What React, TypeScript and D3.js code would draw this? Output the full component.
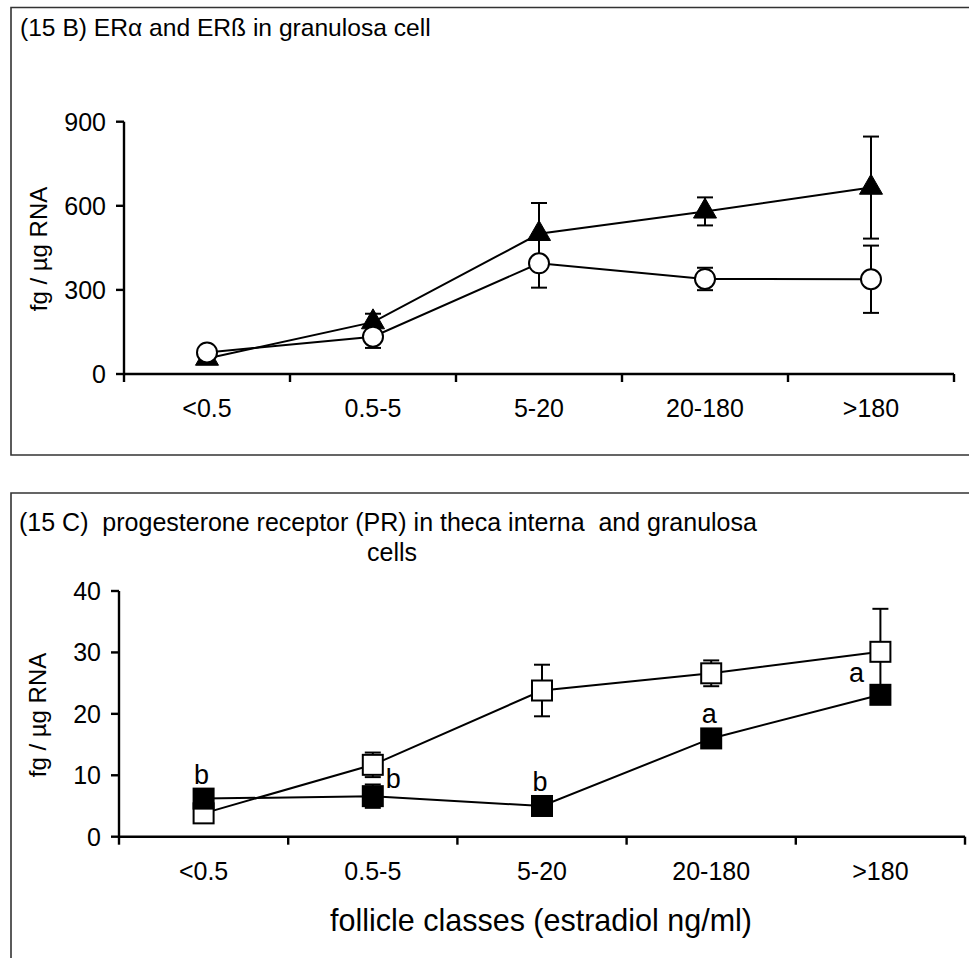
import React from 'react';
import * as d3 from 'd3';

// follicle classes (estradiol ng/ml)
const classes = ['<0.5', '0.5-5', '5-20', '20-180', '>180'];

// (15 B) granulosa cells, fg / µg RNA
const erAlpha = [55, 185, 500, 580, 665];
const erAlphaErr = [0, 30, 110, 50, 182];
const erBeta = [77, 133, 395, 339, 338];
const erBetaErr = [0, 40, 87, 40, 120];
const topTicks = [0, 300, 600, 900];

// (15 C) PR, fg / µg RNA
const prOpen = [3.8, 11.7, 23.8, 26.6, 30.1];
const prOpenErr = [0, 2, 4.2, 2.1, 7];
const prFilled = [6.2, 6.6, 5.0, 16.0, 23.1];
const prFilledErr = [0, 1.9, 0, 0, 1.2];
const prLetters = ['b', 'b', 'b', 'a', 'a'];
const bottomTicks = [0, 10, 20, 30, 40];

const FONT = '"Liberation Sans", Arial, Helvetica, sans-serif';

type Series = { values: number[]; err: number[]; shape: 'triangle' | 'circle' | 'square'; fill: string };

const Marker = ({ shape, fill, x, y }: { shape: string; fill: string; x: number; y: number }) => {
  if (shape === 'circle') {
    return <circle cx={x} cy={y} r={10} fill={fill} stroke="#000" strokeWidth={2} />;
  }
  if (shape === 'square') {
    return <rect x={x - 10} y={y - 10} width={20} height={20} fill={fill} stroke="#000" strokeWidth={2} />;
  }
  const tri = d3.symbol(d3.symbolTriangle, 230)();
  return <path d={tri || ''} transform={`translate(${x},${y})`} fill={fill} stroke="#000" strokeWidth={1} />;
};

const Panel = ({
  x0, x1, yBottom, yTop, max, ticks, series,
}: {
  x0: number; x1: number; yBottom: number; yTop: number; max: number; ticks: number[]; series: Series[];
}) => {
  const x = d3.scaleBand<string>().domain(classes).range([x0, x1]).padding(0);
  const y = d3.scaleLinear().domain([0, max]).range([yBottom, yTop]);
  const cx = (c: string) => (x(c) as number) + x.bandwidth() / 2;
  const edges = classes.map((c) => x(c) as number).concat([x1]);
  const line = d3.line<number>().x((_, i) => cx(classes[i])).y((d) => y(d));

  return (
    <g>
      {/* axes */}
      <line x1={x0} x2={x0} y1={yBottom + 1.2} y2={yTop} stroke="#000" strokeWidth={2.4} />
      <line x1={x0} x2={x1} y1={yBottom} y2={yBottom} stroke="#000" strokeWidth={2.4} />
      {ticks.map((t) => (
        <g key={t}>
          <line x1={x0 - 8} x2={x0} y1={y(t)} y2={y(t)} stroke="#000" strokeWidth={2.4} />
          <text x={x0 - 18} y={y(t)} dy="0.36em" textAnchor="end" fontSize={25}>{t}</text>
        </g>
      ))}
      {edges.map((e, i) => (
        <line key={i} x1={e} x2={e} y1={yBottom} y2={yBottom + 8} stroke="#000" strokeWidth={2.4} />
      ))}
      {classes.map((c) => (
        <text key={c} x={cx(c)} y={yBottom + 43} textAnchor="middle" fontSize={25}>{c}</text>
      ))}
      {/* error bars */}
      {series.map((s, si) =>
        s.values.map((v, i) => {
          if (!s.err[i]) return null;
          const px = cx(classes[i]);
          const lo = y(v - s.err[i]);
          const hi = y(v + s.err[i]);
          return (
            <g key={`${si}-${i}`} stroke="#000" strokeWidth={2}>
              <line x1={px} x2={px} y1={lo} y2={hi} />
              <line x1={px - 8} x2={px + 8} y1={hi} y2={hi} />
              <line x1={px - 8} x2={px + 8} y1={lo} y2={lo} />
            </g>
          );
        })
      )}
      {/* lines */}
      {series.map((s, si) => (
        <path key={si} d={line(s.values) || ''} fill="none" stroke="#000" strokeWidth={2} />
      ))}
      {/* markers */}
      {series.map((s, si) =>
        s.values.map((v, i) => (
          <Marker key={`${si}-${i}`} shape={s.shape} fill={s.fill} x={cx(classes[i])} y={y(v)} />
        ))
      )}
    </g>
  );
};

export default function App() {
  const bx = d3.scaleBand<string>().domain(classes).range([119, 965]);
  const by = d3.scaleLinear().domain([0, 40]).range([836.7, 591]);
  const bcx = (c: string) => (bx(c) as number) + bx.bandwidth() / 2;

  return (
    <svg
      width={969}
      height={958}
      style={{ position: 'absolute', left: 0, top: 0, background: '#fff' }}
      fontFamily={FONT}
    >
      <rect x={0} y={0} width={969} height={958} fill="#fff" />

      {/* top panel frame */}
      <path d="M975,7.5 H11 V455 H975" fill="none" stroke="#333" strokeWidth={1.6} />
      <text x={20} y={36} fontSize={24.6}>(15 B) ERα and ERß in granulosa cell</text>
      <text transform="translate(47,249) rotate(-90)" textAnchor="middle" fontSize={24}>fg / µg RNA</text>
      <Panel
        x0={124}
        x1={954}
        yBottom={374}
        yTop={121.7}
        max={900}
        ticks={topTicks}
        series={[
          { values: erAlpha, err: erAlphaErr, shape: 'triangle', fill: '#000' },
          { values: erBeta, err: erBetaErr, shape: 'circle', fill: '#fff' },
        ]}
      />

      {/* bottom panel frame */}
      <path d="M975,493 H11 V965" fill="none" stroke="#333" strokeWidth={1.6} />
      <text x={19} y={531} fontSize={25} style={{ whiteSpace: 'pre' }}>
        {'(15 C)  progesterone receptor (PR) in theca interna  and granulosa'}
      </text>
      <text x={392} y={561} textAnchor="middle" fontSize={25}>cells</text>
      <text transform="translate(46,715) rotate(-90)" textAnchor="middle" fontSize={24}>fg / µg RNA</text>
      <Panel
        x0={119}
        x1={965}
        yBottom={836.7}
        yTop={591}
        max={40}
        ticks={bottomTicks}
        series={[
          { values: prOpen, err: prOpenErr, shape: 'square', fill: '#fff' },
          { values: prFilled, err: prFilledErr, shape: 'square', fill: '#000' },
        ]}
      />
      {prLetters.map((l, i) => {
        const px = bcx(classes[i]);
        const py = by(prFilled[i]);
        if (i === 1) return <text key={i} x={px + 13} y={py - 8} fontSize={27}>{l}</text>;
        if (i === 4) return <text key={i} x={px - 24} y={py - 13} textAnchor="middle" fontSize={27}>{l}</text>;
        return <text key={i} x={px - 2} y={py - 15} textAnchor="middle" fontSize={27}>{l}</text>;
      })}
      <text x={541} y={931} textAnchor="middle" fontSize={30.5}>follicle classes (estradiol ng/ml)</text>
    </svg>
  );
}
